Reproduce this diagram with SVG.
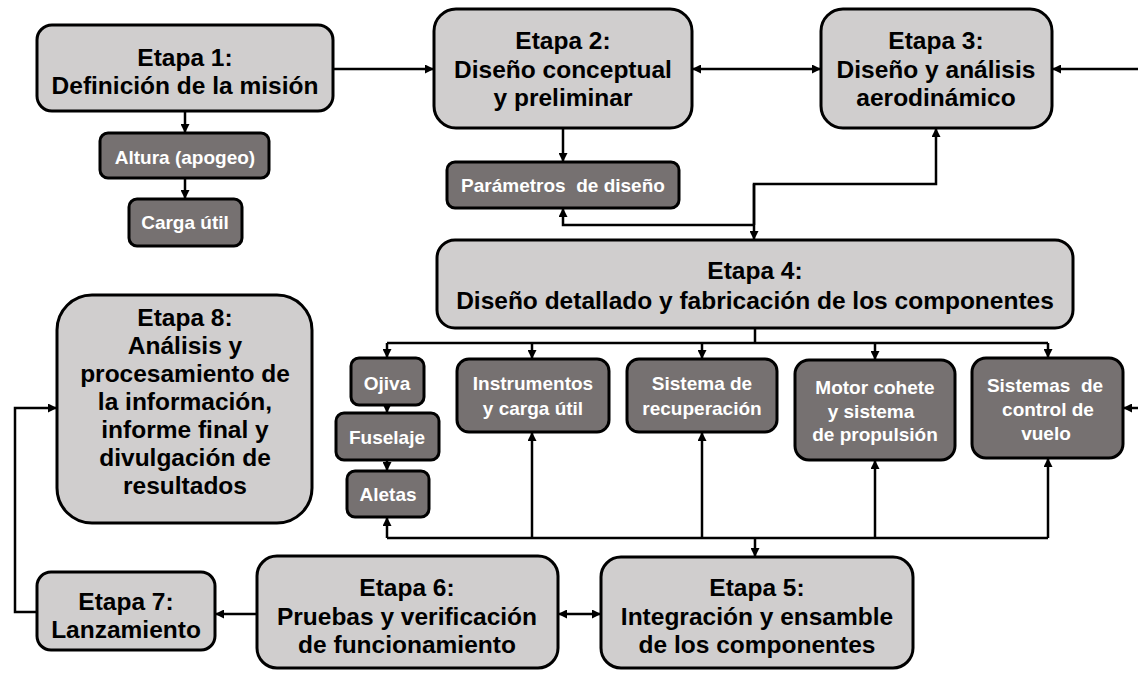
<svg xmlns="http://www.w3.org/2000/svg" width="1138" height="674" viewBox="0 0 1138 674">
<defs>
<style>
.l{fill:#d0cece;stroke:#000;stroke-width:3}
.d{fill:#767171;stroke:#000;stroke-width:3}
.t{font-family:"Liberation Sans",Arial,sans-serif;font-weight:bold;font-size:24.5px;fill:#000;text-anchor:middle}
.s{font-family:"Liberation Sans",Arial,sans-serif;font-weight:bold;font-size:19px;fill:#fff;text-anchor:middle}
.c{fill:none;stroke:#000;stroke-width:2.5}
.a{marker-end:url(#ah)}
.b{marker-start:url(#ah);marker-end:url(#ah)}
</style>
<marker id="ah" viewBox="0 0 10 10" refX="10" refY="5" markerWidth="9" markerHeight="9" markerUnits="userSpaceOnUse" orient="auto-start-reverse">
<path d="M0,0 L10,5 L0,10 z" fill="#000"/>
</marker>
</defs>
<rect width="1138" height="674" fill="#fff"/>

<g id="etapa1"><rect class="l" x="37" y="25" width="296" height="86" rx="15"/>
<text class="t" x="185" y="66">Etapa 1:</text><text class="t" x="185" y="94">Definición de la misión</text></g>
<g id="altura"><rect class="d" x="100" y="133" width="169" height="45" rx="8"/><text class="s" x="185" y="164">Altura (apogeo)</text></g>
<g id="carga"><rect class="d" x="129" y="199" width="113" height="47" rx="8"/><text class="s" x="185" y="229">Carga útil</text></g>

<g id="etapa2"><rect class="l" x="434" y="9" width="258" height="119" rx="22"/>
<text class="t" x="563" y="49">Etapa 2:</text><text class="t" x="563" y="78">Diseño conceptual</text><text class="t" x="563" y="106">y preliminar</text></g>
<g id="parametros"><rect class="d" x="447" y="162" width="232" height="46" rx="8"/><text class="s" x="563" y="192" xml:space="preserve">Parámetros  de diseño</text></g>

<g id="etapa3"><rect class="l" x="821" y="9" width="231" height="119" rx="22"/>
<text class="t" x="936" y="49">Etapa 3:</text><text class="t" x="936" y="78">Diseño y análisis</text><text class="t" x="936" y="106">aerodinámico</text></g>

<g id="etapa4"><rect class="l" x="437" y="240" width="636" height="88" rx="18"/>
<text class="t" x="755" y="279">Etapa 4:</text><text class="t" x="755" y="309">Diseño detallado y fabricación de los componentes</text></g>

<g id="ojiva"><rect class="d" x="351" y="358" width="73" height="47" rx="8"/><text class="s" x="387" y="390">Ojiva</text></g>
<g id="fuselaje"><rect class="d" x="336" y="413" width="103" height="47" rx="8"/><text class="s" x="387" y="444">Fuselaje</text></g>
<g id="aletas"><rect class="d" x="347" y="471" width="82" height="46" rx="8"/><text class="s" x="388" y="501">Aletas</text></g>
<g id="instrumentos"><rect class="d" x="457" y="359" width="152" height="73" rx="12"/>
<text class="s" x="533" y="390">Instrumentos</text><text class="s" x="533" y="415">y carga útil</text></g>
<g id="recuperacion"><rect class="d" x="627" y="359" width="150" height="73" rx="12"/>
<text class="s" x="702" y="390">Sistema de</text><text class="s" x="702" y="415">recuperación</text></g>
<g id="motor"><rect class="d" x="795" y="360" width="160" height="100" rx="14"/>
<text class="s" x="875" y="394">Motor cohete</text><text class="s" x="871" y="418">y sistema</text><text class="s" x="875" y="441">de propulsión</text></g>
<g id="control"><rect class="d" x="972" y="358" width="151" height="100" rx="14"/>
<text class="s" x="1045" y="392" xml:space="preserve">Sistemas  de</text><text class="s" x="1048" y="416">control de</text><text class="s" x="1046" y="440">vuelo</text></g>

<g id="etapa5"><rect class="l" x="601" y="557" width="312" height="111" rx="20"/>
<text class="t" x="757" y="596">Etapa 5:</text><text class="t" x="757" y="625">Integración y ensamble</text><text class="t" x="757" y="653">de los componentes</text></g>
<g id="etapa6"><rect class="l" x="257" y="556" width="301" height="112" rx="20"/>
<text class="t" x="407" y="596">Etapa 6:</text><text class="t" x="407" y="625">Pruebas y verificación</text><text class="t" x="407" y="653">de funcionamiento</text></g>
<g id="etapa7"><rect class="l" x="37" y="572" width="178" height="78" rx="14"/>
<text class="t" x="126" y="610">Etapa 7:</text><text class="t" x="126" y="638">Lanzamiento</text></g>
<g id="etapa8"><rect class="l" x="57" y="295" width="255" height="228" rx="35"/>
<text class="t" x="185" y="326">Etapa 8:</text><text class="t" x="185" y="354">Análisis y</text><text class="t" x="185" y="382">procesamiento de</text><text class="t" x="185" y="410">la información,</text><text class="t" x="185" y="438">informe final y</text><text class="t" x="185" y="466">divulgación de</text><text class="t" x="185" y="494">resultados</text></g>

<g id="connectors">
<path class="c a" d="M333,69 H434"/>
<path class="c b" d="M692,69 H821"/>
<path class="c a" d="M1138,69 H1052"/>
<path class="c a" d="M185,111 V133"/>
<path class="c a" d="M185,178 V199"/>
<path class="c a" d="M563,128 V162"/>
<path class="c a" d="M754,225 V184 H936 V128"/>
<path class="c a" d="M754,184 V240"/>
<path class="c a" d="M754,225 H563 V208"/>
<path class="c" d="M755,328 V343 M387,343 H1048"/>
<path class="c a" d="M387,343 V358"/>
<path class="c a" d="M532,343 V359"/>
<path class="c a" d="M702,343 V359"/>
<path class="c a" d="M875,343 V360"/>
<path class="c a" d="M1048,343 V358"/>
<path class="c a" d="M387,405 V413"/>
<path class="c a" d="M387,460 V471"/>
<path class="c" d="M387,538 H1048"/>
<path class="c a" d="M387,538 V517"/>
<path class="c a" d="M532,538 V432"/>
<path class="c a" d="M702,538 V432"/>
<path class="c a" d="M875,538 V460"/>
<path class="c a" d="M1048,538 V458"/>
<path class="c a" d="M755,538 V557"/>
<path class="c a" d="M1138,408 H1123"/>
<path class="c b" d="M558,614 H601"/>
<path class="c a" d="M257,614 H215"/>
<path class="c a" d="M37,612 H15 V408 H57"/>
</g>
</svg>
